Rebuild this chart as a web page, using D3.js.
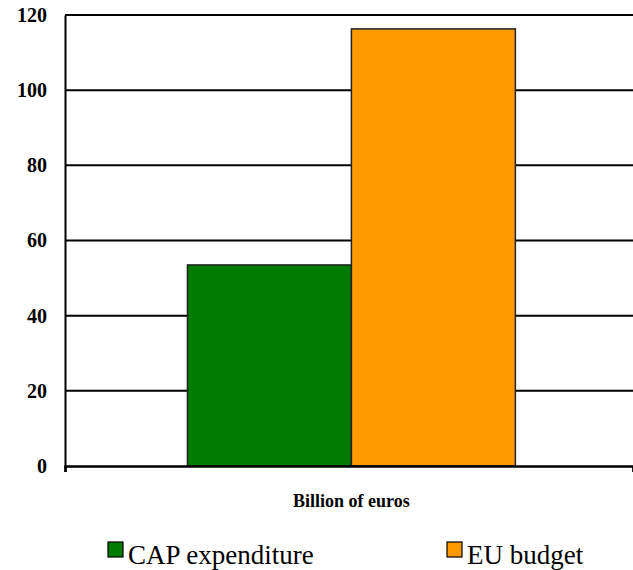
<!DOCTYPE html>
<html>
<head>
<meta charset="utf-8">
<script src="https://cdn.jsdelivr.net/npm/d3@7"></script>
</head>
<body style="margin:0;background:#fff">
<svg id="chart" width="633" height="570"></svg>
<script>
const categories = ['Billion of euros'];
const seriesNames = ['CAP expenditure', 'EU budget'];
const seriesColors = ['#007A00', '#FF9900'];
const capValues = [53.5];
const budgetValues = [116.3];
const yTicks = [0, 20, 40, 60, 80, 100, 120];

const width = 633, height = 570;
const margin = { top: 15, right: 0, bottom: 104, left: 65 };
const innerW = width - margin.left - margin.right;
const innerH = height - margin.top - margin.bottom;
const serif = "'Times New Roman', 'Liberation Serif', serif";

const svg = d3.select('#chart');

const g = svg.append('g')
    .attr('transform', `translate(${margin.left},${margin.top})`);

const x0 = d3.scaleBand().domain(categories).range([0, innerW]).paddingInner(0).paddingOuter(0.366).align(0.51);
const x1 = d3.scaleBand().domain(seriesNames).range([0, x0.bandwidth()]);
const y = d3.scaleLinear().domain([0, 120]).range([innerH, 0]);

// gridlines
g.selectAll('line.grid')
    .data(yTicks.filter(t => t > 0))
    .enter().append('line')
    .attr('class', 'grid')
    .attr('x1', 0).attr('x2', innerW)
    .attr('y1', d => y(d)).attr('y2', d => y(d))
    .attr('stroke', '#000')
    .attr('stroke-width', 2);

// bars
const rows = categories.map((c, i) => ({ cat: c, vals: [capValues[i], budgetValues[i]] }));
const grp = g.selectAll('g.cat')
    .data(rows)
    .enter().append('g')
    .attr('class', 'cat')
    .attr('transform', d => `translate(${x0(d.cat)},0)`);

grp.selectAll('rect')
    .data(d => d.vals.map((v, j) => ({ name: seriesNames[j], value: v, color: seriesColors[j] })))
    .enter().append('rect')
    .attr('x', d => x1(d.name))
    .attr('y', d => y(d.value))
    .attr('width', x1.bandwidth())
    .attr('height', d => innerH - y(d.value))
    .attr('fill', d => d.color)
    .attr('stroke', '#222')
    .attr('stroke-width', 1.5);

// y axis
const yAxis = d3.axisLeft(y).tickValues(yTicks).tickSize(0).tickPadding(18);
const ya = g.append('g').call(yAxis);
ya.attr('font-family', null).attr('font-size', null);
ya.select('.domain').attr('stroke', '#000').attr('stroke-width', 2);
ya.selectAll('text')
    .style('font-family', serif)
    .style('font-size', '20px')
    .style('font-weight', 'bold')
    .attr('fill', '#000');

// x axis (baseline)
const xAxis = d3.axisBottom(d3.scaleLinear().domain([0, 1]).range([0, innerW]))
    .tickValues([0, 1]).tickSize(6).tickFormat('');
const xa = g.append('g').attr('transform', `translate(0,${innerH})`).call(xAxis);
xa.select('.domain').attr('stroke', '#000').attr('stroke-width', 2.5);
xa.selectAll('.tick line').attr('stroke', '#000').attr('stroke-width', 2);

// axis title
g.append('text')
    .attr('x', x0(categories[0]) + x0.bandwidth() / 2)
    .attr('y', innerH + 41)
    .attr('text-anchor', 'middle')
    .style('font-family', serif)
    .style('font-size', '18px')
    .style('font-weight', 'bold')
    .text(categories[0]);

// legend
const legendX = [108, 447];
const legend = svg.selectAll('g.legend')
    .data(seriesNames)
    .enter().append('g')
    .attr('class', 'legend')
    .attr('transform', (d, i) => `translate(${legendX[i]},542)`);

legend.append('rect')
    .attr('width', 15).attr('height', 15)
    .attr('fill', (d, i) => seriesColors[i])
    .attr('stroke', '#000')
    .attr('stroke-width', 1.2);

legend.append('text')
    .attr('x', 20)
    .attr('y', 22)
    .style('font-family', serif)
    .style('font-size', '27px')
    .text(d => d);
</script>
</body>
</html>
